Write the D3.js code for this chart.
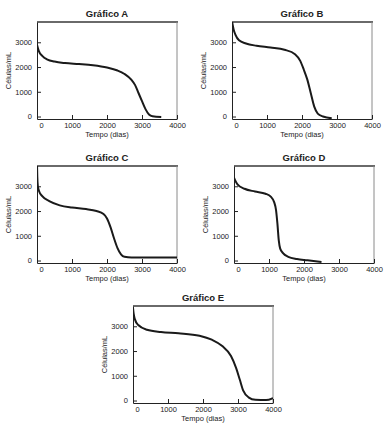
<!DOCTYPE html>
<html>
    <head>
        <meta charset="utf-8">
        <title>graficos</title>
        <script src="https://d3js.org/d3.v7.min.js"></script>
        <style>
            body { margin: 0; background: white; }
            text { font-family: "Liberation Sans", Arial, sans-serif; fill: #222; }
        </style>
    </head>
    <body>
    <script type="text/javascript">
    //chart data (tempo em dias, celulas/mL)
    var titles = ["Gráfico A", "Gráfico B", "Gráfico C", "Gráfico D", "Gráfico E"];
    var xTicks = [0, 1000, 2000, 3000, 4000];
    var yTicks = [0, 1000, 2000, 3000];
    var xLabel = "Tempo (dias)";
    var yLabel = "Células/mL";

    var serieA = [[0,2900],[50,2650],[150,2450],[300,2300],[500,2220],[800,2160],[1200,2120],[1600,2070],
                  [2000,1980],[2300,1860],[2500,1720],[2700,1480],[2800,1280],[2900,950],[3000,620],
                  [3100,300],[3200,80],[3300,10],[3550,-20]];
    var serieB = [[0,3850],[50,3500],[100,3300],[200,3080],[400,2950],[700,2860],[1100,2790],[1500,2700],
                  [1800,2520],[1950,2250],[2050,1900],[2150,1500],[2250,950],[2350,400],[2450,120],
                  [2600,0],[2850,-70]];
    var serieC = [[0,3900],[8,3400],[25,3000],[60,2800],[150,2600],[350,2400],[650,2230],[1000,2140],
                  [1400,2080],[1700,2000],[1900,1880],[2000,1700],[2100,1350],[2200,900],[2300,500],
                  [2400,250],[2500,150],[2700,120],[4000,120]];
    var serieD = [[0,3350],[30,3250],[100,3080],[300,2900],[600,2790],[900,2700],[1050,2580],[1150,2350],
                  [1200,2050],[1240,1500],[1280,800],[1320,480],[1400,300],[1550,150],[1800,60],
                  [2100,10],[2500,-60]];
    var serieE = [[0,3750],[20,3500],[50,3300],[150,3050],[400,2860],[800,2770],[1300,2720],[1900,2620],
                  [2250,2460],[2550,2200],[2800,1800],[2950,1300],[3050,850],[3150,400],[3300,130],
                  [3500,30],[3800,20],[4000,100]];
    var series = [serieA, serieB, serieC, serieD, serieE];

    //panel layout
    var size = {width: 140, height: 97};
    var origins = [[37, 22], [232, 22], [37, 166], [234, 166], [133, 306]];

    var _svg = d3.select("body")
                 .append("svg")
                 .attr("width", 392)
                 .attr("height", 432);

    var x = d3.scaleLinear().domain([0, 4000]).range([0, size.width]);
    var y = d3.scaleLinear().domain([-100, 3820]).range([size.height, 0]);

    var line = d3.line()
                 .x(function(d){ return x(d[0]); })
                 .y(function(d){ return y(d[1]); })
                 .curve(d3.curveMonotoneX);

    series.forEach(function(data, i){
        var g = _svg.append("g")
                    .attr("transform", "translate(" + origins[i][0] + "," + origins[i][1] + ")");

        //clip
        g.append("clipPath")
         .attr("id", "clip" + i)
         .append("rect")
         .attr("width", size.width)
         .attr("height", size.height);

        //top and right frame
        g.append("line")
         .attr("x1", 0).attr("x2", size.width + 1)
         .attr("y1", 0).attr("y2", 0)
         .attr("stroke", "#6a6a6a")
         .attr("stroke-width", 2);
        g.append("line")
         .attr("x1", size.width).attr("x2", size.width)
         .attr("y1", 0).attr("y2", size.height)
         .attr("stroke", "#8a8a8a")
         .attr("stroke-width", 1);

        //x axis
        var gx = g.append("g")
                  .attr("transform", "translate(0," + size.height + ")")
                  .call(d3.axisBottom(x).tickValues(xTicks).tickSizeInner(-4).tickSizeOuter(0).tickPadding(4).tickFormat(d3.format("d")));
        gx.selectAll("text").attr("dx", function(d){ return d == 0 ? 4 : 0; });

        //y axis
        var gy = g.append("g")
                  .call(d3.axisLeft(y).tickValues(yTicks).tickSizeInner(-4).tickSizeOuter(0).tickPadding(5).tickFormat(d3.format("d")));

        [gx, gy].forEach(function(a){
            a.selectAll("text").attr("font-size", 7.5).attr("fill", "#222").attr("font-family", "Liberation Sans, Arial, sans-serif");
            a.selectAll("line").attr("stroke", "#222");
            a.select(".domain").attr("stroke", "#222");
        });

        //curve
        g.append("path")
         .datum(data)
         .attr("d", line)
         .attr("fill", "none")
         .attr("stroke", "#1a1a1a")
         .attr("stroke-width", 2)
         .attr("clip-path", "url(#clip" + i + ")");

        //titles
        g.append("text")
         .attr("x", size.width / 2)
         .attr("y", -5)
         .attr("text-anchor", "middle")
         .attr("font-size", 9.5)
         .attr("font-weight", "bold")
         .text(titles[i]);

        g.append("text")
         .attr("x", size.width / 2)
         .attr("y", size.height + 18)
         .attr("text-anchor", "middle")
         .attr("font-size", 7.5)
         .text(xLabel);

        g.append("text")
         .attr("transform", "translate(-26," + (size.height / 2) + ") rotate(-90)")
         .attr("text-anchor", "middle")
         .attr("font-size", 7.5)
         .text(yLabel);
    });
    </script>
    </body>
</html>
